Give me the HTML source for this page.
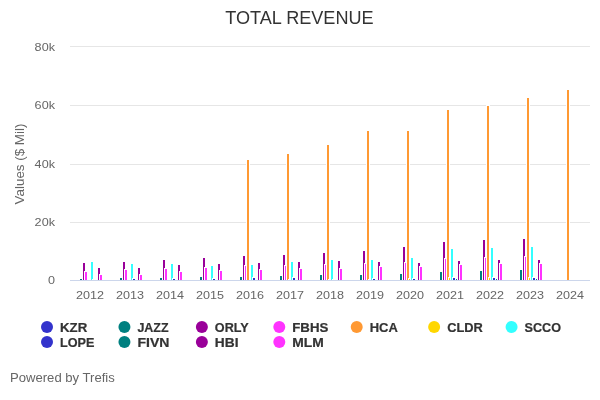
<!DOCTYPE html>
<html lang="en">
<head>
<meta charset="utf-8">
<title>Total Revenue</title>
<style>
html,body{margin:0;padding:0;background:#ffffff;}
body{width:600px;height:400px;overflow:hidden;font-family:"Liberation Sans",sans-serif;}
svg{display:block;will-change:transform;font-family:"Liberation Sans",sans-serif;}
.ax{font-size:11.00px;fill:#666666;}
.yt{font-size:12.00px;fill:#666666;}
.lg{font-size:12.00px;font-weight:bold;fill:#333333;stroke:#333333;stroke-width:0.20px;}
.ti{font-size:18.00px;fill:#333333;}
.cr{font-size:12.00px;fill:#666666;}
</style>
</head>
<body>
<svg width="600" height="400" viewBox="0 0 600 400">
<rect x="0" y="0" width="600" height="400" fill="#ffffff"/>
<defs><clipPath id="plot"><rect x="70" y="46" width="520" height="234"/></clipPath></defs>
<g stroke="#e6e6e6" stroke-width="1" fill="none">
<path d="M 70 46.5 L 590 46.5"/>
<path d="M 70 105.5 L 590 105.5"/>
<path d="M 70 164.5 L 590 164.5"/>
<path d="M 70 222.5 L 590 222.5"/>
</g>
<path d="M 70 280.5 L 590 280.5" stroke="#ccd6eb" stroke-width="1" fill="none"/>
<g clip-path="url(#plot)" stroke="#ffffff" stroke-width="1">
<g fill="#008080"><rect x="79.5" y="278.5" width="3" height="2"/><rect x="119.5" y="277.5" width="3" height="3"/><rect x="159.5" y="277.5" width="3" height="3"/><rect x="199.5" y="276.5" width="3" height="4"/><rect x="239.5" y="276.5" width="3" height="4"/><rect x="279.5" y="275.5" width="3" height="5"/><rect x="319.5" y="274.5" width="3" height="6"/><rect x="359.5" y="274.5" width="3" height="6"/><rect x="399.5" y="273.5" width="3" height="7"/><rect x="439.5" y="271.5" width="3" height="9"/><rect x="479.5" y="270.5" width="3" height="10"/><rect x="519.5" y="269.5" width="3" height="11"/></g>
<g fill="#990099"><rect x="82.5" y="262.5" width="3" height="18"/><rect x="122.5" y="261.5" width="3" height="19"/><rect x="162.5" y="259.5" width="3" height="21"/><rect x="202.5" y="257.5" width="3" height="23"/><rect x="242.5" y="255.5" width="3" height="25"/><rect x="282.5" y="254.5" width="3" height="26"/><rect x="322.5" y="252.5" width="3" height="28"/><rect x="362.5" y="250.5" width="3" height="30"/><rect x="402.5" y="246.5" width="3" height="34"/><rect x="442.5" y="241.5" width="3" height="39"/><rect x="482.5" y="239.5" width="3" height="41"/><rect x="522.5" y="238.5" width="3" height="42"/></g>
<g fill="#ff33ff"><rect x="84.5" y="271.5" width="3" height="9"/><rect x="124.5" y="269.5" width="3" height="11"/><rect x="164.5" y="268.5" width="3" height="12"/><rect x="204.5" y="267.5" width="3" height="13"/><rect x="244.5" y="265.5" width="3" height="15"/><rect x="284.5" y="265.5" width="3" height="15"/><rect x="324.5" y="264.5" width="3" height="16"/><rect x="364.5" y="263.5" width="3" height="17"/><rect x="404.5" y="262.5" width="3" height="18"/><rect x="444.5" y="258.5" width="3" height="22"/><rect x="484.5" y="257.5" width="3" height="23"/><rect x="524.5" y="256.5" width="3" height="24"/></g>
<g fill="#ff9933"><rect x="246.5" y="159.5" width="3" height="121"/><rect x="286.5" y="153.5" width="3" height="127"/><rect x="326.5" y="144.5" width="3" height="136"/><rect x="366.5" y="130.5" width="3" height="150"/><rect x="406.5" y="130.5" width="3" height="150"/><rect x="446.5" y="109.5" width="3" height="171"/><rect x="486.5" y="105.5" width="3" height="175"/><rect x="526.5" y="97.5" width="3" height="183"/><rect x="566.5" y="89.5" width="3" height="191"/></g>
<g fill="#ffd700"><rect x="288.5" y="279.5" width="3" height="1"/><rect x="328.5" y="279.5" width="3" height="1"/><rect x="368.5" y="279.5" width="3" height="1"/><rect x="408.5" y="278.5" width="3" height="2"/><rect x="448.5" y="277.5" width="3" height="3"/><rect x="488.5" y="277.5" width="3" height="3"/><rect x="528.5" y="277.5" width="3" height="3"/></g>
<g fill="#33ffff"><rect x="90.5" y="261.5" width="3" height="19"/><rect x="130.5" y="263.5" width="3" height="17"/><rect x="170.5" y="263.5" width="3" height="17"/><rect x="210.5" y="265.5" width="3" height="15"/><rect x="250.5" y="264.5" width="3" height="16"/><rect x="290.5" y="261.5" width="3" height="19"/><rect x="330.5" y="259.5" width="3" height="21"/><rect x="370.5" y="259.5" width="3" height="21"/><rect x="410.5" y="257.5" width="3" height="23"/><rect x="450.5" y="248.5" width="3" height="32"/><rect x="490.5" y="247.5" width="3" height="33"/><rect x="530.5" y="246.5" width="3" height="34"/></g>
<g fill="#3333cc"><rect x="92.5" y="279.5" width="3" height="1"/><rect x="132.5" y="278.5" width="3" height="2"/><rect x="172.5" y="278.5" width="3" height="2"/><rect x="212.5" y="278.5" width="3" height="2"/><rect x="252.5" y="277.5" width="3" height="3"/><rect x="292.5" y="277.5" width="3" height="3"/><rect x="332.5" y="279.5" width="3" height="1"/><rect x="372.5" y="278.5" width="3" height="2"/><rect x="412.5" y="278.5" width="3" height="2"/><rect x="452.5" y="277.5" width="3" height="3"/><rect x="492.5" y="277.5" width="3" height="3"/><rect x="532.5" y="277.5" width="3" height="3"/></g>
<g fill="#008080"><rect x="455.5" y="278.5" width="3" height="2"/><rect x="495.5" y="278.5" width="3" height="2"/><rect x="535.5" y="278.5" width="3" height="2"/></g>
<g fill="#990099"><rect x="97.5" y="267.5" width="3" height="13"/><rect x="137.5" y="267.5" width="3" height="13"/><rect x="177.5" y="264.5" width="3" height="16"/><rect x="217.5" y="263.5" width="3" height="17"/><rect x="257.5" y="262.5" width="3" height="18"/><rect x="297.5" y="261.5" width="3" height="19"/><rect x="337.5" y="260.5" width="3" height="20"/><rect x="377.5" y="261.5" width="3" height="19"/><rect x="417.5" y="262.5" width="3" height="18"/><rect x="457.5" y="260.5" width="3" height="20"/><rect x="497.5" y="259.5" width="3" height="21"/><rect x="537.5" y="259.5" width="3" height="21"/></g>
<g fill="#ff33ff"><rect x="99.5" y="274.5" width="3" height="6"/><rect x="139.5" y="274.5" width="3" height="6"/><rect x="179.5" y="271.5" width="3" height="9"/><rect x="219.5" y="270.5" width="3" height="10"/><rect x="259.5" y="269.5" width="3" height="11"/><rect x="299.5" y="268.5" width="3" height="12"/><rect x="339.5" y="268.5" width="3" height="12"/><rect x="379.5" y="266.5" width="3" height="14"/><rect x="419.5" y="266.5" width="3" height="14"/><rect x="459.5" y="264.5" width="3" height="16"/><rect x="499.5" y="263.5" width="3" height="17"/><rect x="539.5" y="263.5" width="3" height="17"/></g>
</g>
<text class="ti" x="299.4" y="24" text-anchor="middle" textLength="148.40" lengthAdjust="spacingAndGlyphs">TOTAL REVENUE</text>
<text class="yt" x="24" y="164" text-anchor="middle" textLength="80.85" lengthAdjust="spacingAndGlyphs" transform="rotate(270 24 164)">Values ($ Mil)</text>
<text class="ax" x="55" y="51" text-anchor="end" textLength="20.37" lengthAdjust="spacingAndGlyphs">80k</text>
<text class="ax" x="55" y="109" text-anchor="end" textLength="20.37" lengthAdjust="spacingAndGlyphs">60k</text>
<text class="ax" x="55" y="168" text-anchor="end" textLength="20.37" lengthAdjust="spacingAndGlyphs">40k</text>
<text class="ax" x="55" y="226" text-anchor="end" textLength="20.37" lengthAdjust="spacingAndGlyphs">20k</text>
<text class="ax" x="55" y="284" text-anchor="end" textLength="7.00" lengthAdjust="spacingAndGlyphs">0</text>
<text class="ax" x="90.0" y="299" text-anchor="middle" textLength="27.99" lengthAdjust="spacingAndGlyphs">2012</text>
<text class="ax" x="130.0" y="299" text-anchor="middle" textLength="27.99" lengthAdjust="spacingAndGlyphs">2013</text>
<text class="ax" x="170.0" y="299" text-anchor="middle" textLength="27.99" lengthAdjust="spacingAndGlyphs">2014</text>
<text class="ax" x="210.0" y="299" text-anchor="middle" textLength="27.99" lengthAdjust="spacingAndGlyphs">2015</text>
<text class="ax" x="250.0" y="299" text-anchor="middle" textLength="27.99" lengthAdjust="spacingAndGlyphs">2016</text>
<text class="ax" x="290.0" y="299" text-anchor="middle" textLength="27.99" lengthAdjust="spacingAndGlyphs">2017</text>
<text class="ax" x="330.0" y="299" text-anchor="middle" textLength="27.99" lengthAdjust="spacingAndGlyphs">2018</text>
<text class="ax" x="370.0" y="299" text-anchor="middle" textLength="27.99" lengthAdjust="spacingAndGlyphs">2019</text>
<text class="ax" x="410.0" y="299" text-anchor="middle" textLength="27.99" lengthAdjust="spacingAndGlyphs">2020</text>
<text class="ax" x="450.0" y="299" text-anchor="middle" textLength="27.99" lengthAdjust="spacingAndGlyphs">2021</text>
<text class="ax" x="490.0" y="299" text-anchor="middle" textLength="27.99" lengthAdjust="spacingAndGlyphs">2022</text>
<text class="ax" x="530.0" y="299" text-anchor="middle" textLength="27.99" lengthAdjust="spacingAndGlyphs">2023</text>
<text class="ax" x="570.0" y="299" text-anchor="middle" textLength="27.99" lengthAdjust="spacingAndGlyphs">2024</text>
<circle cx="47.00" cy="327" r="6" fill="#3333cc"/><text class="lg" x="60.00" y="331.5" textLength="27.24" lengthAdjust="spacingAndGlyphs">KZR</text>
<circle cx="124.43" cy="327" r="6" fill="#008080"/><text class="lg" x="137.43" y="331.5" textLength="31.15" lengthAdjust="spacingAndGlyphs">JAZZ</text>
<circle cx="201.86" cy="327" r="6" fill="#990099"/><text class="lg" x="214.86" y="331.5" textLength="33.91" lengthAdjust="spacingAndGlyphs">ORLY</text>
<circle cx="279.29" cy="327" r="6" fill="#ff33ff"/><text class="lg" x="292.29" y="331.5" textLength="36.03" lengthAdjust="spacingAndGlyphs">FBHS</text>
<circle cx="356.72" cy="327" r="6" fill="#ff9933"/><text class="lg" x="369.72" y="331.5" textLength="28.14" lengthAdjust="spacingAndGlyphs">HCA</text>
<circle cx="434.15" cy="327" r="6" fill="#ffd700"/><text class="lg" x="447.15" y="331.5" textLength="35.65" lengthAdjust="spacingAndGlyphs">CLDR</text>
<circle cx="511.58" cy="327" r="6" fill="#33ffff"/><text class="lg" x="524.58" y="331.5" textLength="36.46" lengthAdjust="spacingAndGlyphs">SCCO</text>
<circle cx="47.00" cy="342" r="6" fill="#3333cc"/><text class="lg" x="60.00" y="346.5" textLength="34.41" lengthAdjust="spacingAndGlyphs">LOPE</text>
<circle cx="124.43" cy="342" r="6" fill="#008080"/><text class="lg" x="137.43" y="346.5" textLength="31.99" lengthAdjust="spacingAndGlyphs">FIVN</text>
<circle cx="201.86" cy="342" r="6" fill="#990099"/><text class="lg" x="214.86" y="346.5" textLength="23.65" lengthAdjust="spacingAndGlyphs">HBI</text>
<circle cx="279.29" cy="342" r="6" fill="#ff33ff"/><text class="lg" x="292.29" y="346.5" textLength="31.53" lengthAdjust="spacingAndGlyphs">MLM</text>
<text class="cr" x="10" y="381.5" textLength="104.79" lengthAdjust="spacingAndGlyphs">Powered by Trefis</text>
</svg>
</body>
</html>
